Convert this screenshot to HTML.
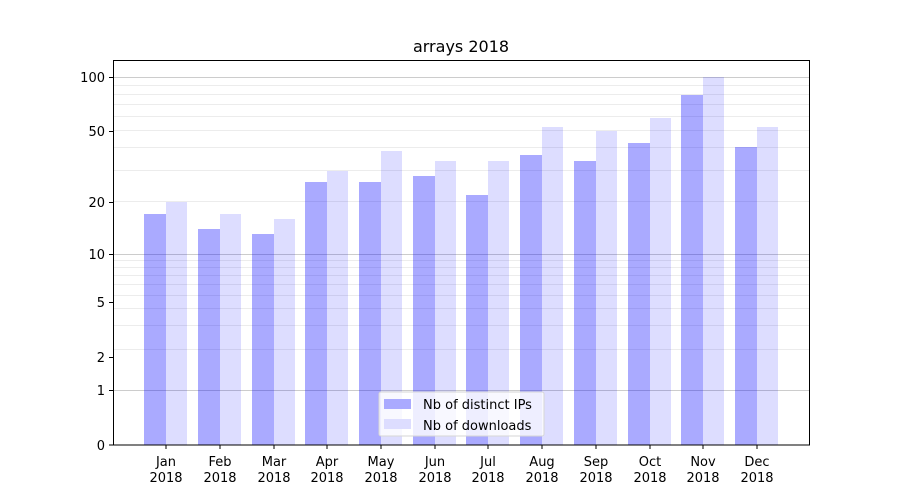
<!DOCTYPE html><html><head><style>body{margin:0;background:#fff}svg{display:block}text{font-family:"DejaVu Sans","Liberation Sans",sans-serif;fill:#000}</style></head><body>
<svg width="900" height="500" xmlns="http://www.w3.org/2000/svg">
<g stroke="#ececec" stroke-width="1">
<line x1="113" x2="810" y1="349.5" y2="349.5"/><line x1="113" x2="810" y1="325.5" y2="325.5"/><line x1="113" x2="810" y1="308.5" y2="308.5"/><line x1="113" x2="810" y1="295.5" y2="295.5"/><line x1="113" x2="810" y1="284.5" y2="284.5"/><line x1="113" x2="810" y1="275.5" y2="275.5"/><line x1="113" x2="810" y1="267.5" y2="267.5"/><line x1="113" x2="810" y1="260.5" y2="260.5"/>
<line x1="113" x2="810" y1="201.5" y2="201.5"/><line x1="113" x2="810" y1="170.5" y2="170.5"/><line x1="113" x2="810" y1="147.5" y2="147.5"/><line x1="113" x2="810" y1="130.5" y2="130.5"/><line x1="113" x2="810" y1="116.5" y2="116.5"/><line x1="113" x2="810" y1="104.5" y2="104.5"/><line x1="113" x2="810" y1="94.5" y2="94.5"/><line x1="113" x2="810" y1="85.5" y2="85.5"/>
</g>
<g stroke="#cccccc"><line x1="113" x2="810" y1="390.5" y2="390.5"/><line x1="113" x2="810" y1="254.5" y2="254.5"/><line x1="113" x2="810" y1="77.5" y2="77.5"/></g>
<g fill="#0000ff" fill-opacity="0.333">
<rect x="144" y="214" width="22" height="231"/><rect x="198" y="229" width="22" height="216"/><rect x="252" y="234" width="22" height="211"/><rect x="305" y="182" width="22" height="263"/><rect x="359" y="182" width="22" height="263"/><rect x="413" y="176" width="22" height="269"/><rect x="466" y="195" width="22" height="250"/><rect x="520" y="155" width="22" height="290"/><rect x="574" y="161" width="22" height="284"/><rect x="628" y="143" width="22" height="302"/><rect x="681" y="95" width="22" height="350"/><rect x="735" y="147" width="22" height="298"/>
</g>
<g fill="#0000ff" fill-opacity="0.133">
<rect x="166" y="202" width="21" height="243"/><rect x="220" y="214" width="21" height="231"/><rect x="274" y="219" width="21" height="226"/><rect x="327" y="171" width="21" height="274"/><rect x="381" y="151" width="21" height="294"/><rect x="435" y="161" width="21" height="284"/><rect x="488" y="161" width="21" height="284"/><rect x="542" y="127" width="21" height="318"/><rect x="596" y="131" width="21" height="314"/><rect x="650" y="118" width="21" height="327"/><rect x="703" y="77" width="21" height="368"/><rect x="757" y="127" width="21" height="318"/>
</g>
<rect x="113.5" y="60.5" width="696" height="384.5" fill="none" stroke="#000"/>
<g stroke="#000"><line x1="109" x2="113" y1="445" y2="445"/><line x1="109" x2="113" y1="390.5" y2="390.5"/><line x1="109" x2="113" y1="357.5" y2="357.5"/><line x1="109" x2="113" y1="302.5" y2="302.5"/><line x1="109" x2="113" y1="254.5" y2="254.5"/><line x1="109" x2="113" y1="202.5" y2="202.5"/><line x1="109" x2="113" y1="131.5" y2="131.5"/><line x1="109" x2="113" y1="77.5" y2="77.5"/></g>
<g font-size="13" text-anchor="end"><text x="105" y="450">0</text><text x="105" y="395">1</text><text x="105" y="362">2</text><text x="105" y="307">5</text><text x="105" y="259">10</text><text x="105" y="207">20</text><text x="105" y="136">50</text><text x="105" y="82">100</text></g>
<g stroke="#000"><line x1="166" x2="166" y1="445" y2="449"/><line x1="220" x2="220" y1="445" y2="449"/><line x1="274" x2="274" y1="445" y2="449"/><line x1="327" x2="327" y1="445" y2="449"/><line x1="381" x2="381" y1="445" y2="449"/><line x1="435" x2="435" y1="445" y2="449"/><line x1="488" x2="488" y1="445" y2="449"/><line x1="542" x2="542" y1="445" y2="449"/><line x1="596" x2="596" y1="445" y2="449"/><line x1="650" x2="650" y1="445" y2="449"/><line x1="703" x2="703" y1="445" y2="449"/><line x1="757" x2="757" y1="445" y2="449"/></g>
<g font-size="13" text-anchor="middle">
<text x="166" y="466">Jan</text><text x="166" y="482">2018</text><text x="220" y="466">Feb</text><text x="220" y="482">2018</text><text x="274" y="466">Mar</text><text x="274" y="482">2018</text><text x="327" y="466">Apr</text><text x="327" y="482">2018</text><text x="381" y="466">May</text><text x="381" y="482">2018</text><text x="435" y="466">Jun</text><text x="435" y="482">2018</text><text x="488" y="466">Jul</text><text x="488" y="482">2018</text><text x="542" y="466">Aug</text><text x="542" y="482">2018</text><text x="596" y="466">Sep</text><text x="596" y="482">2018</text><text x="650" y="466">Oct</text><text x="650" y="482">2018</text><text x="703" y="466">Nov</text><text x="703" y="482">2018</text><text x="757" y="466">Dec</text><text x="757" y="482">2018</text>
<text x="461" y="52" font-size="16">arrays 2018</text></g>
<rect x="379" y="392" width="165" height="44" rx="2" fill="#fff" fill-opacity="0.8" stroke="#d6d6d6"/>
<rect x="384" y="399" width="27" height="10" fill="#aaaaff"/><rect x="384" y="419" width="27" height="10" fill="#ddddff"/>
<text x="423" y="409" font-size="13">Nb of distinct IPs</text><text x="423" y="430" font-size="13">Nb of downloads</text>
</svg></body></html>
